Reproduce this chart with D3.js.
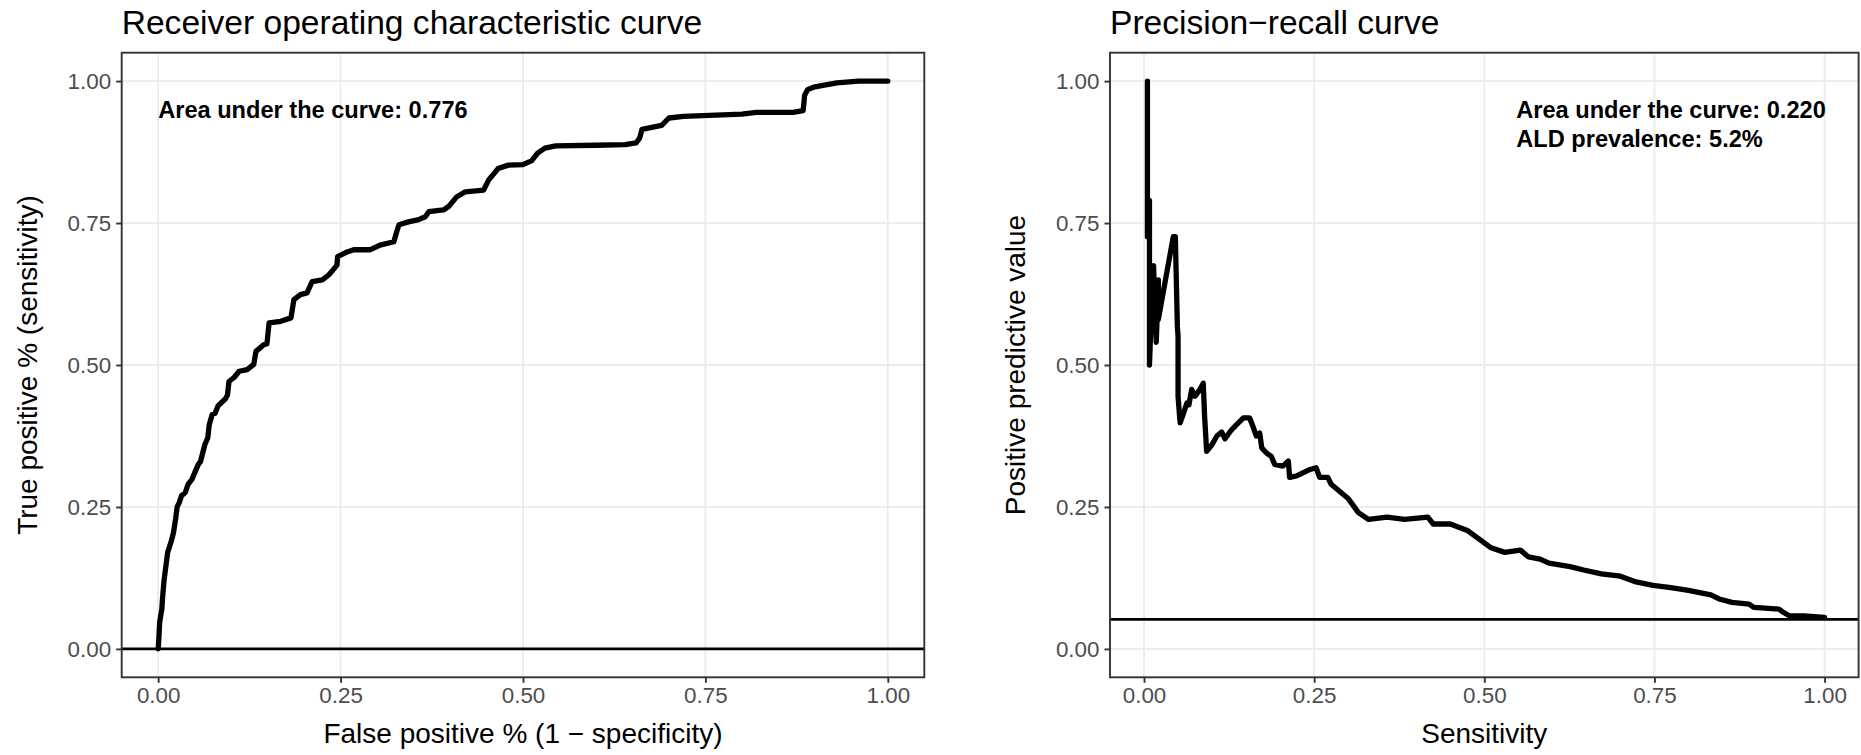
<!DOCTYPE html>
<html>
<head>
<meta charset="utf-8">
<script src="https://cdn.jsdelivr.net/npm/d3@7"></script>
<style>
  body { margin: 0; background: #fff; }
  svg text { font-family: "Liberation Sans", Arial, sans-serif; }
</style>
</head>
<body>
<div id="chart"></div>
<script>
// tick values shared by both panels
const ticks = [0, 0.25, 0.5, 0.75, 1];

// ROC curve: false positive rate / true positive rate
const rocFpr = [0, 0.001, 0.002, 0.005, 0.006, 0.008, 0.011, 0.013, 0.018, 0.021, 0.024, 0.026, 0.029, 0.032,
  0.037, 0.041, 0.046, 0.05, 0.055, 0.058, 0.061, 0.064, 0.068, 0.07, 0.074, 0.078, 0.082, 0.086, 0.092,
  0.095, 0.097, 0.104, 0.111, 0.122, 0.131, 0.134, 0.145, 0.149, 0.152, 0.168, 0.182, 0.186, 0.195, 0.204,
  0.211, 0.225, 0.234, 0.24, 0.245, 0.246, 0.257, 0.268, 0.291, 0.304, 0.323, 0.327, 0.33, 0.343, 0.357,
  0.366, 0.371, 0.391, 0.398, 0.409, 0.421, 0.446, 0.453, 0.466, 0.48, 0.5, 0.512, 0.52, 0.53, 0.545,
  0.6, 0.64, 0.655, 0.66, 0.663, 0.69, 0.7, 0.72, 0.8, 0.82, 0.87, 0.884, 0.886, 0.89, 0.9, 0.93,
  0.96, 1.0];
const rocTpr = [0, 0.02, 0.047, 0.07, 0.09, 0.12, 0.15, 0.17, 0.19, 0.205, 0.23, 0.25, 0.258, 0.27,
  0.275, 0.29, 0.298, 0.31, 0.325, 0.33, 0.345, 0.36, 0.372, 0.395, 0.413, 0.415, 0.428, 0.433, 0.44,
  0.447, 0.471, 0.478, 0.489, 0.492, 0.501, 0.524, 0.536, 0.537, 0.574, 0.577, 0.583, 0.615, 0.624, 0.627,
  0.647, 0.65, 0.659, 0.668, 0.676, 0.691, 0.698, 0.703, 0.703, 0.711, 0.717, 0.735, 0.747, 0.752, 0.756,
  0.761, 0.77, 0.773, 0.779, 0.796, 0.805, 0.808, 0.826, 0.846, 0.852, 0.853, 0.86, 0.873, 0.882, 0.886,
  0.887, 0.888, 0.891, 0.9, 0.915, 0.922, 0.935, 0.938, 0.942, 0.945, 0.945, 0.948, 0.975, 0.985,
  0.99, 0.997, 1.0, 1.0];

// precision-recall curve: sensitivity / positive predictive value
const prRecall = [0.005, 0.005, 0.008, 0.008, 0.011, 0.014, 0.016, 0.018, 0.021, 0.021, 0.03, 0.043, 0.046,
  0.047, 0.049, 0.05, 0.05, 0.053, 0.058, 0.063, 0.066, 0.07, 0.075, 0.078, 0.082, 0.087, 0.089, 0.092,
  0.1, 0.107, 0.114, 0.119, 0.128, 0.136, 0.146, 0.155, 0.16, 0.165, 0.17, 0.173, 0.18, 0.187, 0.192,
  0.204, 0.212, 0.214, 0.225, 0.244, 0.253, 0.258, 0.27, 0.275, 0.289, 0.3, 0.306, 0.315, 0.33, 0.357,
  0.383, 0.417, 0.425, 0.45, 0.476, 0.493, 0.51, 0.53, 0.553, 0.565, 0.582, 0.595, 0.626, 0.646, 0.672,
  0.7, 0.723, 0.748, 0.774, 0.8, 0.833, 0.845, 0.864, 0.889, 0.896, 0.933, 0.94, 0.948, 0.97, 1.0];
const prPrecision = [1.0, 0.726, 0.79, 0.5, 0.6, 0.675, 0.6, 0.54, 0.65, 0.58, 0.64, 0.726, 0.726,
  0.673, 0.568, 0.55, 0.445, 0.398, 0.415, 0.433, 0.43, 0.457, 0.445, 0.45, 0.457, 0.468, 0.41, 0.348,
  0.36, 0.375, 0.382, 0.37, 0.385, 0.395, 0.407, 0.407, 0.392, 0.375, 0.38, 0.354, 0.345, 0.339, 0.325,
  0.322, 0.331, 0.302, 0.305, 0.316, 0.319, 0.302, 0.302, 0.29, 0.276, 0.265, 0.255, 0.24, 0.228, 0.232,
  0.228, 0.232, 0.22, 0.22, 0.208, 0.193, 0.178, 0.17, 0.174, 0.162, 0.158, 0.151, 0.145, 0.139, 0.132,
  0.128, 0.118, 0.112, 0.108, 0.103, 0.095, 0.088, 0.082, 0.079, 0.073, 0.07, 0.064, 0.0585, 0.058, 0.0557];

const rocAuc = 0.776;
const prAuc = 0.220;
const prevalence = 0.052;

const W = 1861, H = 755;
const svg = d3.select("#chart").append("svg")
  .attr("width", W)
  .attr("height", H);

function drawPanel(p) {
  const x = d3.scaleLinear().domain([-0.05, 1.05]).range([p.left, p.right]);
  const y = d3.scaleLinear().domain([-0.05, 1.05]).range([677.3, 52.7]);
  const g = svg.append("g");

  // grid
  g.selectAll(".gx").data(ticks).enter().append("line")
    .attr("x1", d => x(d)).attr("x2", d => x(d))
    .attr("y1", y.range()[1]).attr("y2", y.range()[0])
    .attr("stroke", "#EBEBEB").attr("stroke-width", 1.8);
  g.selectAll(".gy").data(ticks).enter().append("line")
    .attr("x1", p.left).attr("x2", p.right)
    .attr("y1", d => y(d)).attr("y2", d => y(d))
    .attr("stroke", "#EBEBEB").attr("stroke-width", 1.8);

  // reference line
  g.append("line")
    .attr("x1", p.left).attr("x2", p.right)
    .attr("y1", y(p.hline)).attr("y2", y(p.hline))
    .attr("stroke", "#000").attr("stroke-width", 2.6);

  // curve
  const line = d3.line().x(d => x(d[0])).y(d => y(d[1]));
  g.append("path")
    .attr("d", line(d3.zip(p.xs, p.ys)))
    .attr("fill", "none")
    .attr("stroke", "#000")
    .attr("stroke-width", 5.3)
    .attr("stroke-linejoin", "round")
    .attr("stroke-linecap", "round");

  // annotation
  const ann = g.append("text")
    .attr("x", x(p.annX))
    .attr("y", 117.5)
    .attr("font-size", 23.6)
    .attr("font-weight", "bold")
    .attr("fill", "#000");
  p.annLines.forEach((t, i) => {
    ann.append("tspan").attr("x", x(p.annX)).attr("dy", i === 0 ? 0 : 29.4).text(t);
  });

  // border
  g.append("rect")
    .attr("x", p.left).attr("y", 52.7)
    .attr("width", p.right - p.left).attr("height", 677.3 - 52.7)
    .attr("fill", "none").attr("stroke", "#333333").attr("stroke-width", 1.9);

  // axes
  const xAxis = d3.axisBottom(x).tickValues(ticks).tickFormat(d3.format(".2f"))
    .tickSize(5.5).tickPadding(4);
  const yAxis = d3.axisLeft(y).tickValues(ticks).tickFormat(d3.format(".2f"))
    .tickSize(5.5).tickPadding(5);
  const gx = g.append("g").attr("transform", "translate(0,677.3)").call(xAxis);
  const gy = g.append("g").attr("transform", "translate(" + p.left + ",0)").call(yAxis);
  [gx, gy].forEach(a => {
    a.select(".domain").remove();
    a.selectAll(".tick line").attr("stroke", "#333333").attr("stroke-width", 1.9);
    a.selectAll(".tick text").attr("fill", "#4D4D4D").attr("font-size", 22.4)
      .attr("font-family", "Liberation Sans, Arial, sans-serif");
  });
  gx.selectAll(".tick text").attr("dy", "0.71em");
  gy.selectAll(".tick text").attr("dy", "0.35em");

  // titles
  svg.append("text")
    .attr("x", p.left).attr("y", 33.5)
    .attr("font-size", 33.6).attr("fill", "#000")
    .text(p.title);
  svg.append("text")
    .attr("x", (p.left + p.right) / 2).attr("y", 743)
    .attr("text-anchor", "middle")
    .attr("font-size", 28).attr("fill", "#000")
    .text(p.xTitle);
  svg.append("text")
    .attr("transform", "translate(" + (p.left - 84.7) + "," + 365 + ") rotate(-90)")
    .attr("text-anchor", "middle")
    .attr("font-size", 28).attr("fill", "#000")
    .text(p.yTitle);
}

drawPanel({
  left: 121.7, right: 924.3,
  xs: rocFpr, ys: rocTpr,
  hline: 0,
  annX: 0,
  annLines: ["Area under the curve: " + d3.format(".3f")(rocAuc)],
  title: "Receiver operating characteristic curve",
  xTitle: "False positive % (1 \u2212 specificity)",
  yTitle: "True positive % (sensitivity)"
});

drawPanel({
  left: 1110, right: 1858.6,
  xs: prRecall, ys: prPrecision,
  hline: prevalence,
  annX: 0.547,
  annLines: ["Area under the curve: " + d3.format(".3f")(prAuc),
             "ALD prevalence: " + d3.format(".1%")(prevalence)],
  title: "Precision\u2212recall curve",
  xTitle: "Sensitivity",
  yTitle: "Positive predictive value"
});
</script>
</body>
</html>
